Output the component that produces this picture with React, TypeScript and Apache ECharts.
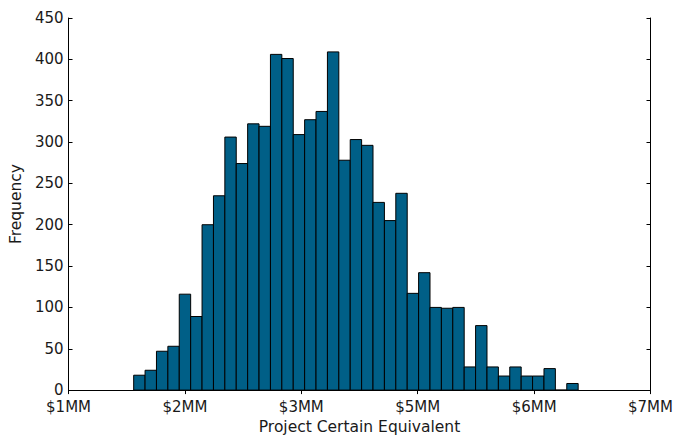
import React, { useEffect, useRef } from "react";
import * as echarts from "echarts";

// Histogram bins (in $MM)
const binStart = 1.6716;
const binWidth = 0.1175;
const counts = [
  18, 24, 47, 53, 116, 89, 200, 235, 306, 274, 322, 319, 406, 401, 309, 327,
  337, 409, 278, 303, 296, 227, 205, 238, 117, 142, 100, 99, 100, 28, 78, 28,
  17, 28, 17, 17, 26, 0, 8,
];
const xTickValues = [1, 2.2, 3.4, 4.6, 5.8, 7];
const xTickLabels = ["$1MM", "$2MM", "$3MM", "$5MM", "$6MM", "$7MM"];
const xTitle = "Project Certain Equivalent";
const yTitle = "Frequency";

const FONT = "DejaVu Sans";
const TXT = "#1a1a1a";

export default function App() {
  const ref = useRef<HTMLDivElement>(null);
  useEffect(() => {
    if (!ref.current) return;
    const chart = echarts.init(ref.current, null, { renderer: "svg" });
    const data = counts.map((c, i) => [
      binStart + i * binWidth,
      binStart + (i + 1) * binWidth,
      c,
    ]);
    const axisLine = { show: true, lineStyle: { color: "#000", width: 1 } };
    const tick = { show: true, inside: true, length: 4, lineStyle: { color: "#000" } };
    chart.setOption({
      animation: false,
      backgroundColor: "#fff",
      grid: { left: 66, right: 23, top: 18, bottom: 48 },
      xAxis: [
        {
          type: "value",
          min: 1,
          max: 7,
          position: "bottom",
          axisLine,
          axisTick: { ...tick, customValues: xTickValues },
          axisLabel: {
            customValues: xTickValues,
            formatter: (v: number) => {
              const idx = xTickValues.findIndex((t) => Math.abs(t - v) < 1e-6);
              return idx >= 0 ? xTickLabels[idx] : "";
            },
            color: TXT,
            fontFamily: FONT,
            fontSize: 15,
            lineHeight: 15,
            margin: 9,
          },
          splitLine: { show: false },
          name: xTitle,
          nameLocation: "middle",
          nameGap: 27,
          nameTextStyle: { color: TXT, fontFamily: FONT, fontSize: 15.5 },
        },
        {
          type: "value",
          min: 1,
          max: 7,
          position: "top",
          axisLine,
          axisTick: { ...tick, customValues: xTickValues },
          axisLabel: { show: false },
          splitLine: { show: false },
        },
      ],
      yAxis: [
        {
          type: "value",
          min: 0,
          max: 450,
          interval: 50,
          position: "left",
          axisLine,
          axisTick: tick,
          axisLabel: {
            color: TXT,
            fontFamily: FONT,
            fontSize: 15,
            lineHeight: 15,
            margin: 5,
            padding: [0, 0, 4, 0],
          },
          splitLine: { show: false },
          name: yTitle,
          nameLocation: "middle",
          nameGap: 42,
          nameTextStyle: { color: TXT, fontFamily: FONT, fontSize: 15.5 },
        },
        {
          type: "value",
          min: 0,
          max: 450,
          interval: 50,
          position: "right",
          axisLine,
          axisTick: tick,
          axisLabel: { show: false },
          splitLine: { show: false },
        },
      ],
      series: [
        {
          type: "custom",
          xAxisIndex: 0,
          yAxisIndex: 0,
          encode: { x: [0, 1], y: 2 },
          data,
          renderItem: (params: any, api: any) => {
            const x0 = api.value(0);
            const x1 = api.value(1);
            const y = api.value(2);
            const p0 = api.coord([x0, y]);
            const p1 = api.coord([x1, 0]);
            return {
              type: "rect",
              shape: {
                x: p0[0],
                y: p0[1],
                width: p1[0] - p0[0],
                height: p1[1] - p0[1],
              },
              style: { fill: "#005f87", stroke: "#000", lineWidth: 1 },
            };
          },
        },
      ],
    });
    return () => chart.dispose();
  }, []);
  return (
    <div
      ref={ref}
      style={{ position: "fixed", left: 0, top: 0, width: 676, height: 440 }}
    />
  );
}
